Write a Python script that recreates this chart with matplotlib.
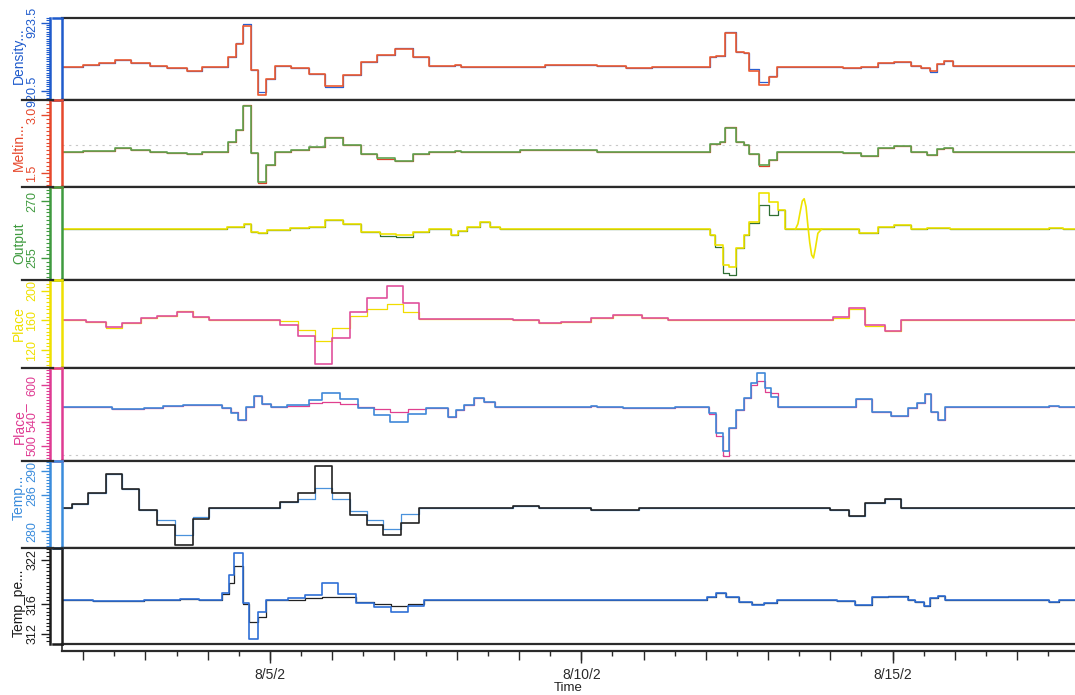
import numpy as np
import matplotlib
matplotlib.use("Agg")
import matplotlib.pyplot as plt
import matplotlib.dates as mdates
from matplotlib.ticker import FixedLocator, MultipleLocator, FuncFormatter
from matplotlib.lines import Line2D

plt.rcParams['font.family'] = ['Liberation Sans Narrow', 'Liberation Sans', 'DejaVu Sans']

# ---------------- data (time = fractional day of August 2002) ----------------
t1 = [1.60, 1.99, 2.25, 2.51, 2.77, 3.08, 3.34, 3.66, 3.91, 4.33, 4.46, 4.57, 4.70, 4.80, 4.93, 5.08,
      5.34, 5.63, 5.89, 6.18, 6.46, 6.72, 7.01, 7.29, 7.55, 7.97, 8.07, 8.38, 8.54, 9.42, 10.25, 10.72,
      11.14, 12.07, 12.17, 12.31, 12.49, 12.61, 12.69, 12.85, 13.01, 13.14, 14.20, 14.49, 14.77, 15.03,
      15.29, 15.45, 15.60, 15.71, 15.83, 15.97, 18.00]
density_red = [921.57, 921.64, 921.71, 921.86, 921.74, 921.59, 921.49, 921.38, 921.57, 921.98,
               922.56, 923.35, 921.42, 920.32, 921.01, 921.59, 921.49, 921.24, 920.72, 921.20,
               921.79, 922.08, 922.33, 921.98, 921.59, 921.64, 921.57, 921.57, 921.57, 921.64,
               921.61, 921.52, 921.57, 921.98, 922.03, 923.03, 922.22, 922.15, 921.39, 920.76,
               921.13, 921.57, 921.49, 921.57, 921.71, 921.79, 921.61, 921.49, 921.38, 921.69,
               921.83, 921.59, 921.59]
density_blue = [921.57, 921.64, 921.71, 921.86, 921.74, 921.59, 921.49, 921.38, 921.57, 921.98,
                922.62, 923.44, 921.42, 920.43, 921.04, 921.59, 921.49, 921.24, 920.69, 921.20,
                921.79, 922.08, 922.37, 921.98, 921.59, 921.64, 921.57, 921.54, 921.57, 921.64,
                921.61, 921.52, 921.57, 921.98, 922.03, 923.10, 922.22, 922.15, 921.45, 920.91,
                921.16, 921.57, 921.49, 921.57, 921.71, 921.79, 921.61, 921.49, 921.35, 921.69,
                921.83, 921.59, 921.59]

t2 = [1.60, 1.99, 2.51, 2.77, 3.08, 3.34, 3.66, 3.91, 4.33, 4.46, 4.57, 4.70, 4.80, 4.93, 5.08, 5.34,
      5.63, 5.89, 6.18, 6.46, 6.72, 7.01, 7.29, 7.55, 7.97, 8.07, 9.01, 10.25, 12.07, 12.23, 12.31,
      12.49, 12.61, 12.69, 12.85, 13.01, 13.14, 14.20, 14.49, 14.77, 15.03, 15.29, 15.55, 15.71, 15.83,
      15.97, 18.00]
melt_green = [2.06, 2.09, 2.15, 2.11, 2.06, 2.02, 2.00, 2.06, 2.32, 2.62,
              3.24, 2.02, 1.29, 1.72, 2.06, 2.11, 2.19, 2.43, 2.24, 2.00,
              1.89, 1.82, 2.00, 2.06, 2.09, 2.06, 2.11, 2.06, 2.26, 2.32,
              2.68, 2.32, 2.24, 2.00, 1.72, 1.86, 2.06, 2.02, 1.96, 2.15,
              2.21, 2.06, 1.97, 2.13, 2.16, 2.06, 2.06]
melt_red = [2.06, 2.09, 2.15, 2.11, 2.06, 2.02, 2.00, 2.06, 2.32, 2.62,
            3.27, 2.02, 1.26, 1.72, 2.06, 2.11, 2.19, 2.45, 2.24, 2.00,
            1.87, 1.81, 2.00, 2.06, 2.09, 2.06, 2.11, 2.06, 2.26, 2.32,
            2.70, 2.32, 2.24, 2.00, 1.70, 1.86, 2.06, 2.02, 1.96, 2.15,
            2.21, 2.06, 1.97, 2.13, 2.16, 2.06, 2.06]

t3 = [1.60, 4.31, 4.59, 4.69, 4.80, 4.95, 5.32, 5.63, 5.89, 6.18, 6.46, 6.77, 7.03, 7.29, 7.55, 7.91,
      8.02, 8.17, 8.38, 8.54, 8.69, 12.07, 12.14, 12.28, 12.38, 12.49, 12.62, 12.69, 12.85, 13.01,
      13.16, 13.27, 14.46, 14.77, 15.03, 15.29, 15.55, 15.92, 17.52, 17.73, 18.00]
output_yellow = [262.6, 263.2, 263.9, 261.8, 261.5, 262.4, 262.8, 263.2, 265.0, 263.9,
                 261.9, 261.3, 261.1, 261.8, 262.6, 261.1, 262.1, 263.2, 264.6, 263.2,
                 262.6, 261.1, 258.4, 253.2, 252.7, 257.5, 261.1, 264.4, 272.0, 269.8,
                 267.6, 262.6, 261.5, 263.2, 263.7, 262.6, 263.0, 262.6, 263.0, 262.6, 262.6]
output_green = [262.6, 263.2, 263.9, 261.8, 261.5, 262.4, 262.8, 263.2, 265.0, 263.9,
                261.9, 260.8, 260.4, 261.8, 262.6, 261.1, 262.1, 263.2, 264.6, 263.2,
                262.6, 261.1, 258.0, 251.0, 250.5, 257.7, 261.1, 264.1, 268.9, 266.3,
                267.6, 262.6, 261.5, 263.2, 263.7, 262.6, 263.0, 262.6, 263.0, 262.6, 262.6]
# smooth oscillation of the Output signal (drawn as a plain line)
t3_smooth = [13.44, 13.48, 13.52, 13.55, 13.58, 13.61, 13.64, 13.67, 13.70, 13.73, 13.76, 13.80, 13.86]
output_smooth = [262.6, 264.0, 267.5, 270.0, 270.6, 268.5, 263.5, 259.0, 255.8, 255.0, 257.5, 261.5, 262.6]

t4 = [1.60, 2.04, 2.36, 2.62, 2.93, 3.19, 3.50, 3.76, 4.02, 5.16, 5.45, 5.73, 5.99, 6.28, 6.56, 6.88,
      7.14, 7.40, 8.90, 9.32, 9.68, 10.15, 10.51, 10.98, 11.40, 14.04, 14.30, 14.56, 14.88, 15.14, 18.00]
place_magenta = [160.7, 158.4, 151.6, 157.0, 162.9, 166.1, 172.0, 164.7, 160.7, 153.9,
                 139.4, 100.6, 136.7, 172.0, 190.1, 207.2, 184.2, 161.6, 160.7, 156.2,
                 158.4, 162.9, 167.5, 163.8, 161.1, 165.2, 176.5, 153.9, 146.2, 160.7, 160.7]
place_yellow = [160.7, 158.4, 150.3, 157.0, 162.9, 166.1, 172.9, 164.7, 160.7, 159.3,
                147.1, 132.2, 149.4, 166.6, 175.6, 182.4, 172.1, 161.6, 160.7, 156.2,
                158.4, 162.9, 167.5, 163.8, 161.1, 163.8, 175.1, 152.5, 146.2, 160.7, 160.7]

t5 = [1.60, 2.46, 2.98, 3.29, 3.60, 4.23, 4.38, 4.49, 4.62, 4.75, 4.87, 5.01, 5.27, 5.63, 5.84, 6.12,
      6.41, 6.67, 6.93, 7.22, 7.50, 7.86, 7.99, 8.12, 8.28, 8.43, 8.61, 10.15, 10.25, 10.67, 11.50,
      12.05, 12.17, 12.28, 12.38, 12.49, 12.62, 12.73, 12.83, 12.95, 13.04, 13.16, 14.10, 14.41,
      14.67, 14.98, 15.24, 15.40, 15.52, 15.62, 15.73, 15.84, 17.52, 17.68, 18.00]
place2_blue = [563.4, 560.7, 562.8, 565.0, 567.2, 562.8, 553.6, 542.6, 564.5, 582.5,
               568.9, 563.4, 567.2, 575.4, 586.3, 576.5, 562.8, 550.8, 539.9, 551.9,
               562.8, 548.1, 559.0, 567.2, 578.1, 571.6, 564.5, 566.1, 563.4, 562.8,
               563.4, 553.6, 520.8, 491.8, 530.1, 559.0, 578.1, 602.7, 619.7, 594.5,
               580.9, 563.4, 564.5, 577.0, 555.2, 549.7, 562.8, 570.0, 585.8, 556.3,
               542.6, 564.5, 566.1, 563.4, 563.4]
place2_magenta = [563.4, 560.7, 562.8, 565.0, 567.2, 561.8, 556.3, 542.6, 564.5, 582.5,
                  568.9, 563.4, 566.1, 569.9, 572.7, 568.3, 564.5, 560.1, 556.3, 560.7,
                  562.8, 548.1, 559.0, 567.2, 578.1, 571.6, 564.5, 566.1, 563.4, 562.8,
                  563.4, 551.9, 516.9, 484.2, 530.1, 559.0, 578.1, 600.0, 606.6, 588.0,
                  586.3, 563.4, 564.5, 577.0, 555.2, 549.7, 562.8, 570.0, 585.8, 556.3,
                  542.6, 564.5, 566.1, 563.4, 563.4]

t6 = [1.60, 1.82, 2.07, 2.36, 2.62, 2.90, 3.19, 3.48, 3.76, 4.02, 5.16, 5.45, 5.73, 5.99, 6.28, 6.56,
      6.82, 7.11, 7.40, 8.90, 9.32, 9.68, 10.15, 10.56, 10.93, 11.40, 13.99, 14.30, 14.56, 14.88,
      15.14, 18.00]
temp_black = [283.9, 284.6, 286.3, 289.6, 287.1, 283.5, 281.1, 277.7, 282.1, 283.9,
              284.8, 286.3, 290.8, 286.4, 282.7, 281.0, 279.3, 281.4, 283.9, 284.2,
              283.9, 283.8, 283.6, 283.5, 283.8, 283.9, 283.5, 282.6, 284.7, 285.3, 283.9, 283.9]
temp_blue = [283.9, 284.6, 286.3, 289.6, 287.1, 283.5, 281.8, 279.3, 282.4, 283.9,
             284.8, 285.4, 287.2, 285.4, 283.3, 281.8, 280.4, 282.8, 283.9, 284.2,
             283.9, 283.8, 283.6, 283.5, 283.8, 283.9, 283.5, 282.6, 284.7, 285.3, 283.9, 283.9]

t7 = [1.60, 2.15, 2.98, 3.55, 3.86, 4.23, 4.35, 4.43, 4.56, 4.66, 4.80, 4.93, 5.29, 5.56, 5.84, 6.10,
      6.38, 6.67, 6.95, 7.22, 7.48, 12.02, 12.17, 12.33, 12.54, 12.75, 12.93, 13.14, 14.10, 14.39,
      14.67, 14.93, 15.24, 15.36, 15.50, 15.60, 15.73, 15.84, 17.52, 17.68, 18.00]
temppe_blue = [316.5, 316.4, 316.5, 316.7, 316.5, 317.5, 319.9, 322.9, 316.1, 311.3,
               315.0, 316.6, 316.8, 317.3, 318.8, 317.4, 316.1, 315.6, 314.9, 315.7,
               316.5, 316.9, 317.5, 317.0, 316.3, 315.9, 316.1, 316.5, 316.4, 315.9,
               316.9, 317.0, 316.5, 316.3, 315.8, 316.8, 317.1, 316.5, 316.3, 316.5, 316.5]
temppe_black = [316.5, 316.4, 316.5, 316.7, 316.5, 317.4, 318.8, 321.1, 316.0, 313.6,
                314.3, 316.6, 316.5, 316.8, 317.0, 316.9, 316.3, 316.0, 315.8, 316.0,
                316.5, 316.9, 317.5, 317.0, 316.3, 316.05, 316.1, 316.5, 316.4, 315.9,
                316.9, 317.1, 316.5, 316.3, 315.8, 316.8, 317.1, 316.5, 316.3, 316.5, 316.5]

# faint reference levels (panel index, value)
ref_levels = [(1, 2.24), (4, 485.0)]

axis_labels = ["Density...", "Meltin...", "Output", "Place", "Place_", "Temp...", "Temp_pe..."]
y_limits = [(920.1, 923.7), (1.15, 3.4), (249.2, 273.7), (95.6, 214.9), (475.4, 627.9),
            (277.2, 291.7), (310.6, 323.6)]
y_major = [[920.5, 923.5], [1.5, 3.0], [255, 270], [120, 160, 200], [500, 540, 600],
           [280, 286, 290], [312, 316, 322]]
y_minor = [0.1, 0.1, 1, 5, 5, 0.5, 0.5]
x_range = (1.66, 17.93)
date_major_days = [5, 10, 15]

# ---------------- styling ----------------
C_BLUE = '#1f5bcc'
C_RED = '#e6482c'
C_GREEN = '#3f9a3f'
C_YELLOW = '#efe000'
C_MAGENTA = '#df3b92'
C_LBLUE = '#3a8cdc'
C_BLACK = '#1c1c1c'

axis_colors = [C_BLUE, C_RED, C_GREEN, C_YELLOW, C_MAGENTA, C_LBLUE, C_BLACK]
label_center_px = [56, 147, 243, 324, 423, 497, 603]

series = [
    (t1, density_blue, '#2a5fd0', density_red, '#ec5a30'),
    (t2, melt_red, '#d8452c', melt_green, '#5ea24e'),
    (t3, output_green, '#2f6f34', output_yellow, '#eee300'),
    (t4, place_yellow, '#f0dc00', place_magenta, '#e0509c'),
    (t5, place2_magenta, '#e0408f', place2_blue, '#3f88d8'),
    (t6, temp_blue, '#4a92dc', temp_black, '#222222'),
    (t7, temppe_black, '#222222', temppe_blue, '#2f6fd6'),
]

W, H = 1075, 695
fig = plt.figure(figsize=(W / 100, H / 100), dpi=100)
fig.patch.set_facecolor('white')

BASE = np.datetime64('2002-07-31T00:00:00')


def to_dt(days):
    return BASE + (np.asarray(days, dtype=float) * 86400).astype('timedelta64[s]')


bounds = [18, 100, 187, 280, 368, 461, 548, 644]
LEFT_PX, RIGHT_PX = 62, 1075
L = LEFT_PX / W
WD = (RIGHT_PX - LEFT_PX) / W
BOX = 9  # px width of the coloured axis box
xlo, xhi = to_dt(x_range)
LW_UNDER = 0.9
LW_MAIN = 1.2

axes = []
for i in range(7):
    top_px, bot_px = bounds[i], bounds[i + 1]
    ax = fig.add_axes([L, 1 - bot_px / H, WD, (bot_px - top_px) / H])
    axes.append(ax)
    t, under, ucol, main, mcol = series[i]
    ax.step(to_dt(t), under, where='post', color=ucol, lw=LW_UNDER)
    ax.step(to_dt(t), main, where='post', color=mcol, lw=LW_MAIN)
    ax.set_xlim(xlo, xhi)
    ax.set_ylim(*y_limits[i])
    ax.set_xticks([])
    acol = axis_colors[i]
    for s in ('top', 'bottom'):
        ax.spines[s].set_color('#2a2a2a')
        ax.spines[s].set_linewidth(1.6)
    ax.spines['right'].set_visible(False)
    ax.spines['left'].set_position(('outward', BOX))
    ax.spines['left'].set_color(acol)
    ax.spines['left'].set_linewidth(1.8)
    ax.plot([0, 0], [0, 1], transform=ax.transAxes, color=acol, lw=1.8, clip_on=False)
    ax.yaxis.set_major_locator(FixedLocator(y_major[i]))
    ax.yaxis.set_minor_locator(MultipleLocator(y_minor[i]))
    ax.tick_params(axis='y', which='major', length=6.5, width=1.0, colors=acol,
                   labelsize=9, pad=1.5, labelrotation=90)
    ax.tick_params(axis='y', which='minor', length=3.2, width=0.8, colors=acol)
    for lab in ax.get_yticklabels():
        lab.set_va('center')
    for ypx in (top_px, bot_px):
        fig.add_artist(Line2D([(LEFT_PX - BOX) / W, LEFT_PX / W], [1 - ypx / H, 1 - ypx / H],
                              transform=fig.transFigure, color=acol, lw=1.8))
    fig.text(19 / W, 1 - label_center_px[i] / H, axis_labels[i], rotation=90,
             ha='center', va='center', color=acol, fontsize=10)

# smooth part of the Output signal
axes[2].plot(to_dt(t3_smooth), output_smooth, color='#eee300', lw=LW_MAIN)

# faint reference levels
for idx, val in ref_levels:
    axes[idx].axhline(val, color='#c8c8c8', lw=0.8, ls=(0, (2, 4)), zorder=0)

# separators extending to the left
for ypx in bounds[1:-1]:
    fig.add_artist(Line2D([22 / W, (LEFT_PX - BOX) / W], [1 - ypx / H, 1 - ypx / H],
                          transform=fig.transFigure, color='#2a2a2a', lw=1.6))

# time axis strip
strip = [L, 1 - 651 / H, WD, 7 / H]
axs = fig.add_axes(strip)
axs.set_xlim(xlo, xhi)
axs.set_yticks([])
axs.patch.set_alpha(0)
axs.spines['top'].set_visible(False)
axs.spines['right'].set_visible(False)
axs.spines['bottom'].set_linewidth(1.6)
axs.spines['bottom'].set_color('#2a2a2a')
axs.spines['left'].set_linewidth(1.2)
axs.spines['left'].set_color('#2a2a2a')
axs.xaxis.set_major_locator(FixedLocator(mdates.date2num(to_dt(date_major_days))))
axs.xaxis.set_major_formatter(FuncFormatter(
    lambda x, pos: f"{mdates.num2date(x).month}/{mdates.num2date(x).day}/2"))
axs.xaxis.set_minor_locator(mdates.HourLocator(byhour=[12]))
axs.tick_params(axis='x', which='major', length=8.5, width=1.0, labelsize=10, pad=4,
                colors='#2a2a2a')
axs.tick_params(axis='x', which='minor', length=3.5, width=1.0, colors='#2a2a2a')

axd = fig.add_axes(strip, frameon=False)
axd.set_xlim(xlo, xhi)
axd.set_yticks([])
axd.patch.set_alpha(0)
axd.xaxis.set_major_locator(mdates.DayLocator())
axd.tick_params(axis='x', which='major', length=6.5, width=1.0, labelbottom=False,
                colors='#2a2a2a')

fig.text(568 / W, 1 - 688 / H, 'Time', ha='center', va='center', fontsize=9.5,
         color='#222222')

fig.savefig('out.png', dpi=100)
